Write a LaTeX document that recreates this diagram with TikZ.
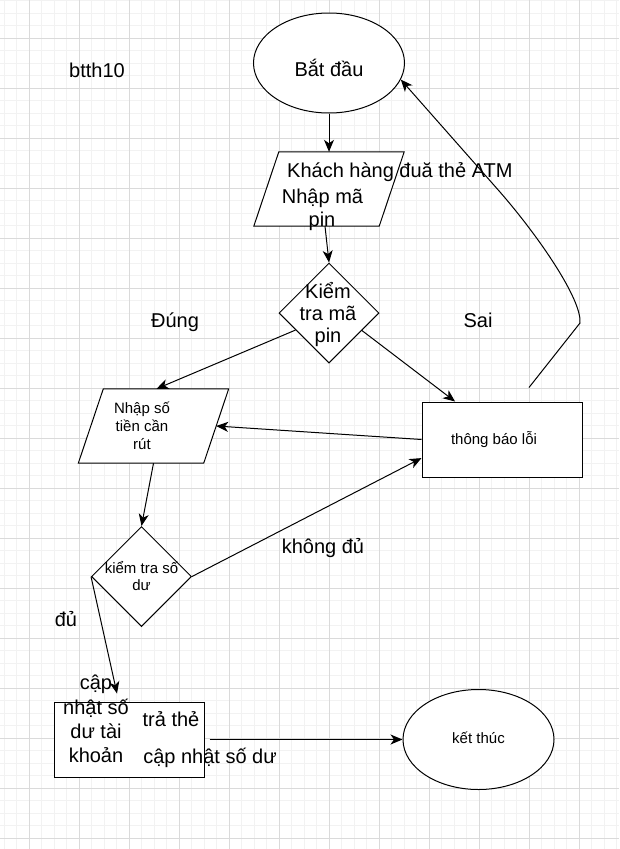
\documentclass[tikz,border=0pt]{standalone}
\usepackage{fontspec}
\setmainfont{Liberation Sans}
\usetikzlibrary{shapes.geometric,arrows.meta}
\definecolor{gmin}{RGB}{242,242,242}
\definecolor{gmaj}{RGB}{218,218,218}
\begin{document}
\begin{tikzpicture}[x=1pt,y=-1pt,
  shp/.style={draw=black, fill=white, line width=1pt, inner sep=0pt},
  parabox/.style={inner sep=0pt, minimum width=150, minimum height=74},
  conn/.style={line width=1pt, -{Stealth[length=12pt,width=10pt,inset=3.5pt]}},
  big/.style={font=\fontsize{20}{23}\selectfont, inner sep=0pt, anchor=base},
  small/.style={font=\fontsize{15}{17}\selectfont, inner sep=0pt, anchor=base},
  minorgrid/.style={draw=gmin, line width=1pt},
  majorgrid/.style={draw=gmaj, line width=1pt}]
\useasboundingbox (0,0) rectangle (619,849);
\fill[white] (0,0) rectangle (619,849);
% grid
\foreach \i in {0,...,49} \draw[minorgrid] ({4.3+12.5*\i},0) -- ({4.3+12.5*\i},849);
\foreach \i in {0,...,67} \draw[minorgrid] (0,{0.8+12.5*\i}) -- (619,{0.8+12.5*\i});
\foreach \i in {0,...,11} \draw[majorgrid] ({29.3+50*\i},0) -- ({29.3+50*\i},849);
\foreach \i in {0,...,16} \draw[majorgrid] (0,{38.3+50*\i}) -- (619,{38.3+50*\i});

% shapes
\node[shp, ellipse, minimum width=151, minimum height=100] (start) at (329,63) {};
\node[parabox] (p1) at (329,189) {};
\draw[shp] ([xshift=25pt]p1.north west) -- (p1.north east) -- ([xshift=-25pt]p1.south east) -- (p1.south west) -- cycle;
\node[shp, diamond, minimum width=100, minimum height=100] (d1) at (329,313) {};
\node[parabox] (p2) at (153.5,426) {};
\draw[shp] ([xshift=25pt]p2.north west) -- (p2.north east) -- ([xshift=-25pt]p2.south east) -- (p2.south west) -- cycle;
\node[shp, rectangle, minimum width=160, minimum height=75] (r1) at (502,439.5) {};
\node[shp, diamond, minimum width=100, minimum height=100] (d2) at (141.5,576.5) {};
\node[shp, rectangle, minimum width=150, minimum height=75] (r2) at (129,739.5) {};
\node[shp, ellipse, minimum width=151, minimum height=100] (end) at (478.5,739.5) {};

% connectors
\draw[conn] (start.south) -- (p1.north);
\draw[conn] ([xshift=-4pt]p1.south) -- (d1.north);
\draw[conn] (d1.207) -- ([xshift=3pt]p2.north);
\draw[conn] (d1.-28) -- (r1.141);
\draw[conn] (r1.west) -- ([xshift=-12.5pt]p2.east);
\draw[conn] (p2.south) -- (d2.north);
\draw[conn] (d2.east) -- (r1.193);
\draw[conn] (d2.west) -- ([xshift=-12pt,yshift=8pt]r2.north);
\draw[conn] ([xshift=5pt]r2.east) -- (end.west);
\draw[conn] ([xshift=27pt,yshift=14pt]r1.north) -- (580,323)
   .. controls (582,300) and (540,238) .. (500,192) -- (start.-13);

% texts
\node[big] (tstart) at (329,76) {Bắt đầu};
\node[big, anchor=base west] (t1a) at (287,177) {Khách hàng đuă thẻ ATM};
\node[big] (t1b) at (322.5,203) {Nhập mã};
\node[big] (t1c) at (322,226) {pin};
\node[big] (t2a) at (328,298) {Kiểm};
\node[big] (t2b) at (328,320) {tra mã};
\node[big] (t2c) at (328,342) {pin};
\node[big] (tdung) at (175,327) {Đúng};
\node[big] (tsai) at (478,327) {Sai};
\node[big, anchor=base west] (tbtth) at (69,77) {btth10};
\node[small] (t3a) at (142,413) {Nhập số};
\node[small] (t3b) at (142,431) {tiền cần};
\node[small] (t3c) at (142,449) {rút};
\node[small] (t4) at (494,444) {thông báo lỗi};
\node[small] (t5a) at (141.5,573) {kiểm tra số};
\node[small] (t5b) at (141.5,590) {dư};
\node[big] (tkd) at (323,553) {không đủ};
\node[big] (tdu) at (66,626) {đủ};
\node[big] (t6a) at (96,689) {cập};
\node[big] (t6b) at (96,714) {nhật số};
\node[big] (t6c) at (96,738) {dư tài};
\node[big] (t6d) at (96,762) {khoản};
\node[big] (t7a) at (171,726) {trả thẻ};
\node[big] (t7b) at (210,763) {cập nhật số dư};
\node[small] (tend) at (478.5,743) {kết thúc};
\end{tikzpicture}
\end{document}
